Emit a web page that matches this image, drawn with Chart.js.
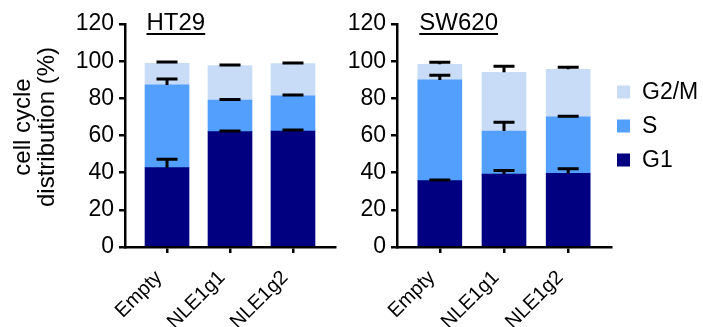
<!DOCTYPE html>
<html><head><meta charset="utf-8">
<script src="https://cdn.jsdelivr.net/npm/chart.js@4"></script>
<style>
html,body{margin:0;padding:0;background:#fff;overflow:hidden;width:703px;height:327px;}
canvas{position:absolute;top:0;}
#c1{left:0;} #c2{left:345px;}
</style></head><body>
<canvas id="c1" width="345" height="327"></canvas>
<canvas id="c2" width="358" height="327"></canvas>
<script>
// ---- data ----
const categories = ['Empty', 'NLE1g1', 'NLE1g2'];
const seriesLabels = ['G1', 'S', 'G2/M'];
const yTicks = [0, 20, 40, 60, 80, 100, 120];
const yAxisTitle = ['cell cycle', 'distribution (%)'];

const ht29_G1 = [42.7, 62.1, 62.4];
const ht29_S = [44.5, 17.0, 18.9];
const ht29_G2M = [11.7, 18.5, 17.4];
const ht29_G1_err = [4.5, 0.3, 0.6];
const ht29_S_err = [3.2, 0.3, 0.5];
const ht29_G2M_err = [0.7, 0.3, 0.3];

const sw620_G1 = [35.7, 39.3, 39.7];
const sw620_S = [54.2, 23.1, 30.4];
const sw620_G2M = [8.4, 31.6, 25.5];
const sw620_G1_err = [0.4, 1.8, 2.4];
const sw620_S_err = [2.5, 4.7, 0.3];
const sw620_G2M_err = [1.1, 3.2, 1.1];

// ---- styles ----
const FONT = "'Liberation Sans', Arial, Helvetica, sans-serif";
const COLORS = ['#000080', '#529FFD', '#C8DCF8'];

function makeDatasets(series, errs) {
  return series.map((vals, si) => ({
    label: seriesLabels[si],
    data: categories.map((c, i) => ({x: i, y: vals[i]})),
    errors: errs[si],
    backgroundColor: COLORS[si],
    borderWidth: 0,
    barThickness: 44
  }));
}

const errorBars = {
  id: 'errorBars',
  afterDatasetsDraw(chart) {
    const ctx = chart.ctx, ys = chart.scales.y;
    ctx.save();
    ctx.strokeStyle = '#000';
    ctx.lineWidth = 3;
    chart.data.datasets.forEach((ds, di) => {
      const meta = chart.getDatasetMeta(di);
      meta.data.forEach((bar, i) => {
        let top = 0;
        for (let k = 0; k <= di; k++) top += chart.data.datasets[k].data[i].y;
        const yCap = ys.getPixelForValue(top + ds.errors[i]);
        ctx.beginPath();
        ctx.moveTo(bar.x, bar.y); ctx.lineTo(bar.x, yCap);
        ctx.moveTo(bar.x - 10.5, yCap); ctx.lineTo(bar.x + 10.5, yCap);
        ctx.stroke();
      });
    });
    ctx.restore();
  }
};

const panelTitle = {
  id: 'panelTitle',
  afterDraw(chart, args, opts) {
    const ctx = chart.ctx;
    const x = chart.scales.x.getPixelForValue(0) - 22 + 1.5;
    ctx.save();
    ctx.font = '24px ' + FONT;
    ctx.fillStyle = '#000';
    ctx.textAlign = 'left';
    ctx.textBaseline = 'alphabetic';
    ctx.fillText(opts.text, x, 30);
    const w = ctx.measureText(opts.text).width;
    ctx.fillRect(x, 33, w, 2);
    ctx.restore();
  }
};

const yTitle = {
  id: 'yTitle',
  afterDraw(chart, args, opts) {
    if (!opts.lines) return;
    const ctx = chart.ctx;
    ctx.save();
    ctx.translate(0, 127);
    ctx.rotate(-Math.PI / 2);
    ctx.font = '24px ' + FONT;
    ctx.fillStyle = '#000';
    ctx.textAlign = 'center';
    ctx.textBaseline = 'middle';
    opts.lines.forEach((t, i) => ctx.fillText(t, 0, 23 + i * 24));
    ctx.restore();
  }
};

const sideLegend = {
  id: 'sideLegend',
  afterDraw(chart, args, opts) {
    if (!opts.show) return;
    const ctx = chart.ctx;
    const ds = chart.data.datasets.slice().reverse();
    const x0 = chart.chartArea.right + 6;
    ctx.save();
    ctx.font = '23px ' + FONT;
    ctx.textBaseline = 'middle';
    ctx.textAlign = 'left';
    ds.forEach((d, i) => {
      const cy = 92 + i * 34;
      ctx.fillStyle = d.backgroundColor;
      ctx.fillRect(x0, cy - 6.5, 13, 13);
      ctx.fillStyle = '#000';
      ctx.fillText(d.label, x0 + 25, cy + 1);
    });
    ctx.restore();
  }
};

function makeChart(id, datasets, title, yWidth, padRight, yLines, showLegend) {
  return new Chart(document.getElementById(id), {
    type: 'bar',
    data: {datasets},
    plugins: [errorBars, panelTitle, yTitle, sideLegend],
    options: {
      responsive: false,
      animation: false,
      devicePixelRatio: 1,
      layout: {padding: {top: 24, right: padRight, left: 0, bottom: 0}},
      plugins: {
        legend: {display: false},
        tooltip: {enabled: false},
        panelTitle: {text: title},
        yTitle: {lines: yLines},
        sideLegend: {show: showLegend}
      },
      scales: {
        x: {
          type: 'linear',
          stacked: true,
          offset: false,
          min: -0.667, max: 2.667,
          afterBuildTicks(s) { s.ticks = categories.map((c, i) => ({value: i})); },
          afterFit(s) { s.height = 80; },
          ticks: {
            autoSkip: false,
            minRotation: 45, maxRotation: 45,
            color: '#000',
            font: {family: FONT, size: 20},
            padding: 13,
            labelOffset: -8,
            callback: (v) => categories[v]
          },
          grid: {display: true, offset: false, drawOnChartArea: false, drawTicks: true, tickLength: 6, color: '#000', lineWidth: 2.5},
          border: {display: true, color: '#000', width: 2.5}
        },
        y: {
          stacked: true,
          min: 0, max: 120,
          afterBuildTicks(s) { s.ticks = yTicks.map(v => ({value: v})); },
          afterFit(s) { s.width = yWidth; },
          ticks: {color: '#000', font: {family: FONT, size: 23}, padding: 5},
          grid: {display: true, drawOnChartArea: false, drawTicks: true, tickLength: 6, color: '#000', lineWidth: 2.5},
          border: {display: true, color: '#000', width: 2.5}
        }
      }
    }
  });
}

makeChart('c1', makeDatasets([ht29_G1, ht29_S, ht29_G2M], [ht29_G1_err, ht29_S_err, ht29_G2M_err]), 'HT29', 125, 10, yAxisTitle, false);
makeChart('c2', makeDatasets([sw620_G1, sw620_S, sw620_G2M], [sw620_G1_err, sw620_S_err, sw620_G2M_err]), 'SW620', 52, 92, null, true);
</script>
</body></html>
